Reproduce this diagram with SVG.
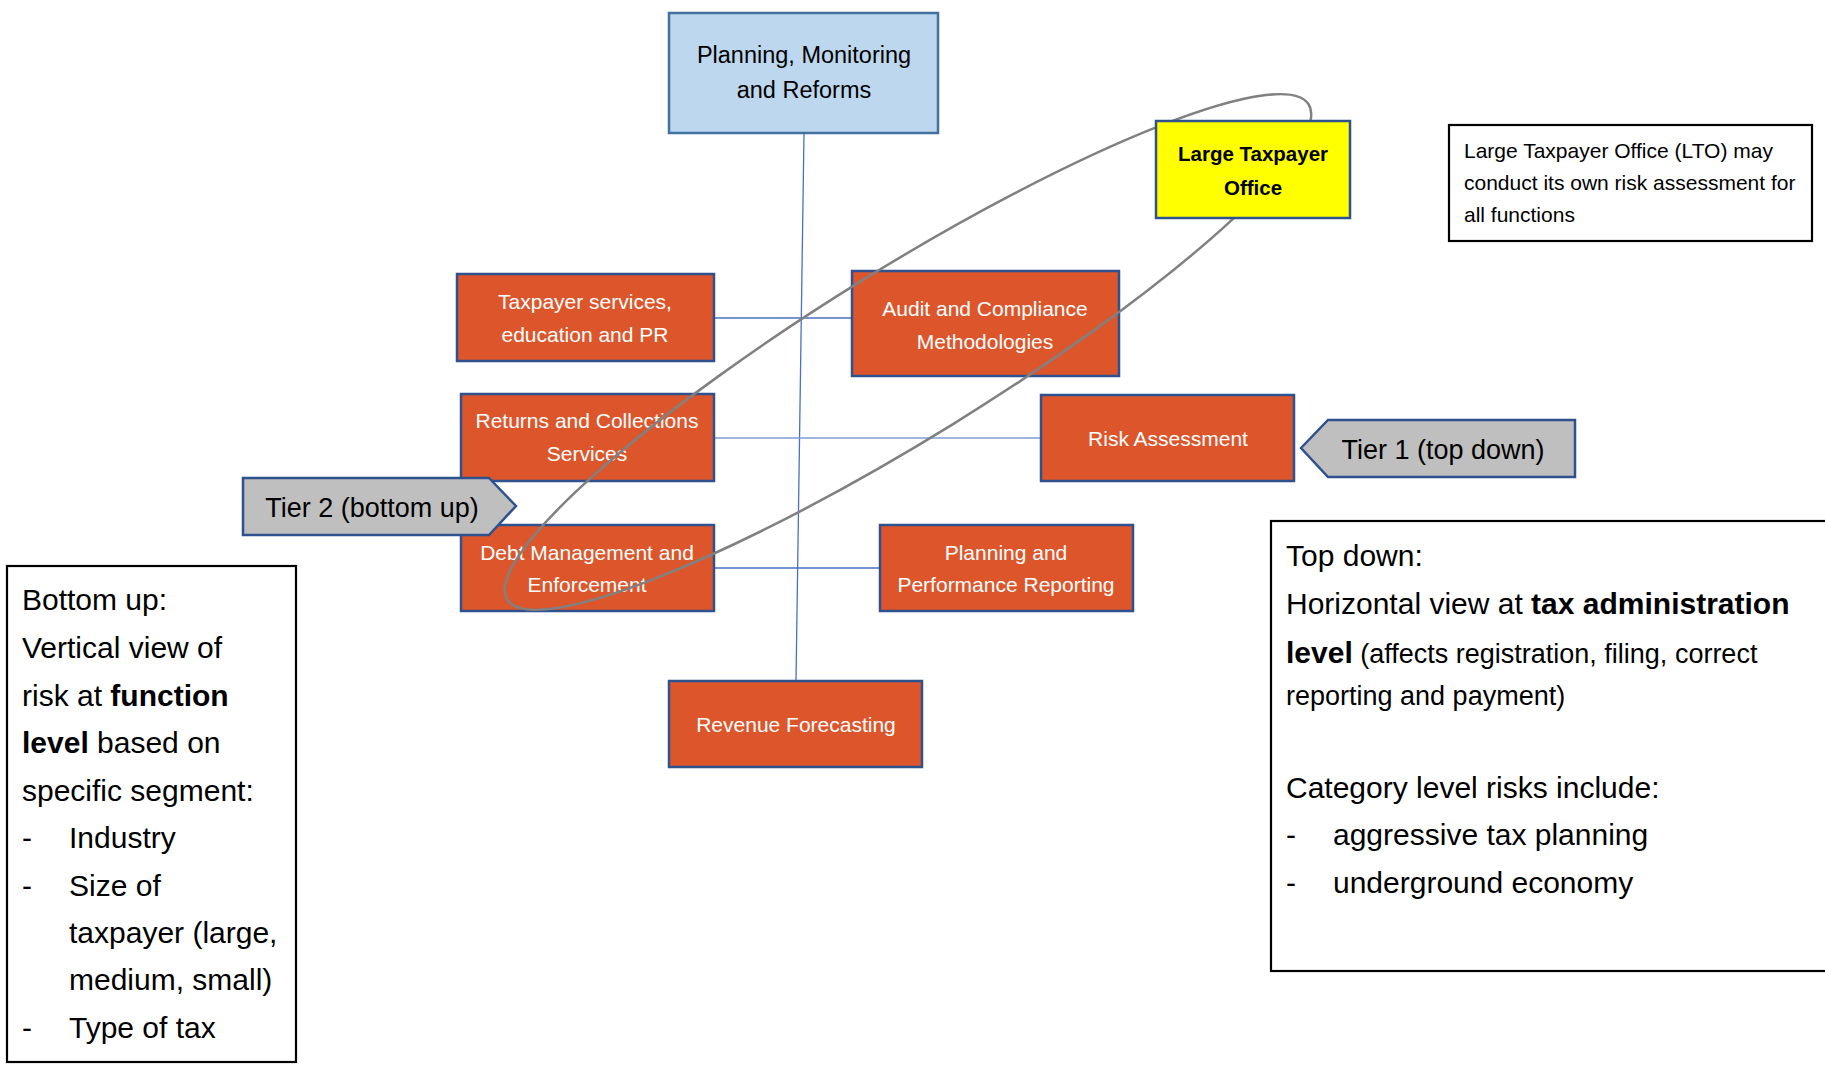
<svg xmlns="http://www.w3.org/2000/svg" width="1825" height="1067" viewBox="0 0 1825 1067">
<style>
text{font-family:"Liberation Sans",Arial,sans-serif}
.org{fill:#DD562B;stroke:#2F528F;stroke-width:2.5}
.ot{fill:#fff;font-size:21px;text-anchor:middle}
.conn{stroke:#4472C4;stroke-width:1.3;fill:none}
.tier{fill:#BFBFBF;stroke:#2F528F;stroke-width:2.5}
.tt{fill:#000;font-size:27px;text-anchor:middle}
.note{fill:#fff;stroke:#000;stroke-width:2.2}
.b{font-weight:bold}
</style>
<rect width="1825" height="1067" fill="#fff"/>
<g id="connectors">
<line class="conn" x1="804" y1="133" x2="796" y2="681"/>
<line class="conn" x1="714" y1="318" x2="852" y2="318"/>
<line class="conn" x1="714" y1="438" x2="1041" y2="438" style="stroke:#7C9DD6;stroke-width:1.6"/>
<line class="conn" x1="714" y1="568" x2="880" y2="568"/>
</g>
<g id="planning-monitoring">
<rect x="669" y="13" width="269" height="120" fill="#BDD7EE" stroke="#41719C" stroke-width="2.5"/>
<text x="804" y="63" font-size="23.5" text-anchor="middle" fill="#000">Planning, Monitoring</text>
<text x="804" y="98" font-size="23.5" text-anchor="middle" fill="#000">and Reforms</text>
</g>
<g id="taxpayer-services">
<rect class="org" x="457" y="274" width="257" height="87"/>
<text class="ot" x="585" y="309">Taxpayer services,</text>
<text class="ot" x="585" y="342">education and PR</text>
</g>
<g id="audit">
<rect class="org" x="852" y="271" width="267" height="105"/>
<text class="ot" x="985" y="316">Audit and Compliance</text>
<text class="ot" x="985" y="349">Methodologies</text>
</g>
<g id="returns">
<rect class="org" x="461" y="394" width="253" height="87"/>
<text class="ot" x="587" y="428">Returns and Collections</text>
<text class="ot" x="587" y="461">Services</text>
</g>
<g id="risk-assessment">
<rect class="org" x="1041" y="395" width="253" height="86"/>
<text class="ot" x="1168" y="446">Risk Assessment</text>
</g>
<g id="debt">
<rect class="org" x="461" y="525" width="253" height="86"/>
<text class="ot" x="587" y="560">Debt Management and</text>
<text class="ot" x="587" y="592">Enforcement</text>
</g>
<g id="planning-performance">
<rect class="org" x="880" y="525" width="253" height="86"/>
<text class="ot" x="1006" y="560">Planning and</text>
<text class="ot" x="1006" y="592">Performance Reporting</text>
</g>
<g id="revenue-forecasting">
<rect class="org" x="669" y="681" width="253" height="86"/>
<text class="ot" x="796" y="732">Revenue Forecasting</text>
</g>
<g id="lto-loop">
<ellipse cx="908" cy="352" rx="471" ry="85" transform="rotate(-31.7 908 352)" fill="none" stroke="#808080" stroke-width="2.5"/>
</g>
<g id="large-taxpayer-office">
<rect x="1156" y="121" width="194" height="97" fill="#FFFF00" stroke="#2F528F" stroke-width="2.5"/>
<text x="1253" y="161" font-size="20.5" font-weight="bold" text-anchor="middle" fill="#000">Large Taxpayer</text>
<text x="1253" y="195" font-size="20.5" font-weight="bold" text-anchor="middle" fill="#000">Office</text>
</g>
<g id="tier1">
<polygon class="tier" points="1301,448 1328,420 1575,420 1575,477 1328,477"/>
<text class="tt" x="1443" y="459">Tier 1 (top down)</text>
</g>
<g id="tier2">
<polygon class="tier" points="243,478 489,478 516,506 489,535 243,535"/>
<text class="tt" x="372" y="517">Tier 2 (bottom up)</text>
</g>
<g id="lto-note">
<rect class="note" x="1449" y="125" width="363" height="116"/>
<text x="1464" y="158" font-size="21" fill="#000">Large Taxpayer Office (LTO) may</text>
<text x="1464" y="190" font-size="21" fill="#000">conduct its own risk assessment for</text>
<text x="1464" y="222" font-size="21" fill="#000">all functions</text>
</g>
<g id="bottom-up-note">
<rect class="note" x="7" y="566" width="289" height="496"/>
<g font-size="30" fill="#000">
<text x="22" y="610">Bottom up:</text>
<text x="22" y="658">Vertical view of</text>
<text x="22" y="706">risk at <tspan class="b">function</tspan></text>
<text x="22" y="753"><tspan class="b">level</tspan> based on</text>
<text x="22" y="801">specific segment:</text>
<text x="22" y="848">-</text><text x="69" y="848">Industry</text>
<text x="22" y="896">-</text><text x="69" y="896">Size of</text>
<text x="69" y="943">taxpayer (large,</text>
<text x="69" y="990">medium, small)</text>
<text x="22" y="1038">-</text><text x="69" y="1038">Type of tax</text>
</g>
</g>
<g id="top-down-note">
<rect class="note" x="1271" y="521" width="570" height="450"/>
<g fill="#000">
<text x="1286" y="566" font-size="30">Top down:</text>
<text x="1286" y="614" font-size="30">Horizontal view at <tspan class="b">tax administration</tspan></text>
<text x="1286" y="663" font-size="30"><tspan class="b">level</tspan><tspan font-size="27"> (affects registration, filing, correct</tspan></text>
<text x="1286" y="705" font-size="27">reporting and payment)</text>
<text x="1286" y="798" font-size="30">Category level risks include:</text>
<text x="1286" y="845" font-size="30">-</text><text x="1333" y="845" font-size="30">aggressive tax planning</text>
<text x="1286" y="893" font-size="30">-</text><text x="1333" y="893" font-size="30">underground economy</text>
</g>
</g>
</svg>
